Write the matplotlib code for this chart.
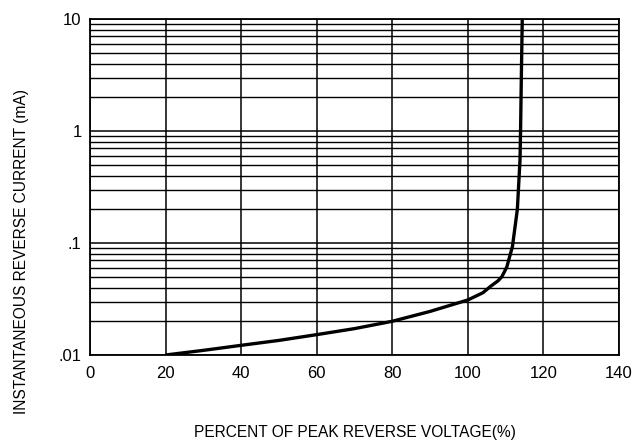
import matplotlib
matplotlib.use("Agg")
import matplotlib.pyplot as plt
from matplotlib import font_manager
from matplotlib.ticker import FixedLocator, NullFormatter

plt.rcParams['font.family'] = ['Liberation Sans', 'DejaVu Sans']
names = {f.name for f in font_manager.fontManager.ttflist}
if 'Liberation Sans Narrow' in names:
    label_family = ['Liberation Sans Narrow', 'Liberation Sans', 'DejaVu Sans']
    label_size = 13
else:
    label_family = ['Liberation Sans', 'DejaVu Sans']
    label_size = 11.2

voltage_pct = [20, 30, 40, 50, 60, 70, 80, 90, 100, 104, 106, 108, 109, 110.3, 111.8, 113.1, 113.8, 113.95, 114.15, 114.4]
current_ma = [0.01, 0.011, 0.0122, 0.0135, 0.0152, 0.0172, 0.02, 0.0245, 0.031, 0.036, 0.041, 0.046, 0.05, 0.061, 0.093, 0.2, 0.55, 1.0, 3.0, 10.0]

x_ticks = [0, 20, 40, 60, 80, 100, 120, 140]
y_ticks = [0.01, 0.1, 1, 10]
y_tick_labels = [".01", ".1", "1", "10"]

fig = plt.figure(figsize=(6.32, 4.47), dpi=100)
ax = fig.add_axes([90/632, 1-355/447, (619-90)/632, (355-19)/447])
ax.set_yscale('log')
ax.set_xlim(0, 140)
ax.set_ylim(0.01, 10)

minor = [m * 10.0**e for e in (-2, -1, 0) for m in range(2, 10)]
ax.yaxis.set_minor_locator(FixedLocator(minor))
ax.yaxis.set_minor_formatter(NullFormatter())
ax.set_yticks(y_ticks)
ax.set_yticklabels(y_tick_labels)
ax.set_xticks(x_ticks)
ax.set_xticklabels([str(t) for t in x_ticks])

ax.grid(True, which='major', axis='both', color='black', linewidth=1.1)
ax.grid(True, which='minor', axis='y', color='black', linewidth=1.0)
ax.tick_params(which='both', length=0, labelsize=12)
ax.tick_params(axis='x', pad=8)
ax.tick_params(axis='y', pad=6)
for s in ax.spines.values():
    s.set_linewidth(1.3)

ax.plot(voltage_pct, current_ma, color='black', linewidth=2.4, solid_capstyle='butt')

ax.set_xlabel("PERCENT OF PEAK REVERSE VOLTAGE(%)", fontsize=label_size, family=label_family, va='center')
ax.set_ylabel("INSTANTANEOUS REVERSE CURRENT (mA)", fontsize=label_size, family=label_family, va='center')
ax.xaxis.set_label_coords(0.5, (355-433)/336)
ax.yaxis.set_label_coords((22-90)/529, (355-252)/336)

fig.savefig("out.png", dpi=100)
